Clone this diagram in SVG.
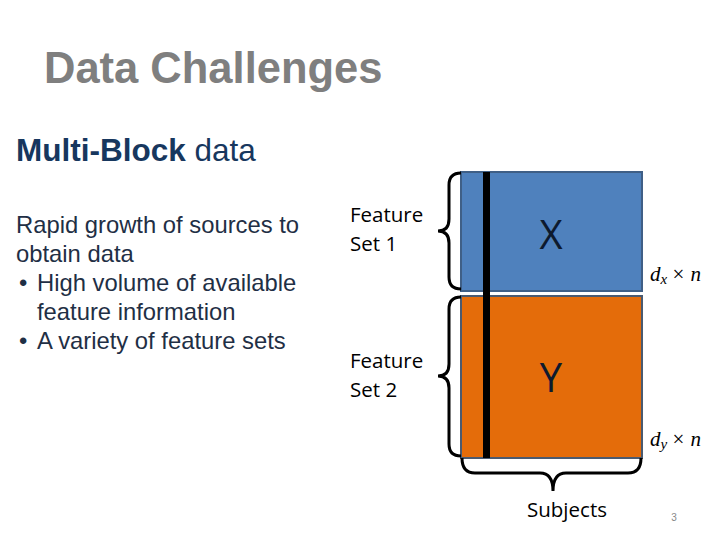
<svg xmlns="http://www.w3.org/2000/svg" width="720" height="540" viewBox="0 0 720 540">
<style>
.title{font-family:"Liberation Sans",Arial,sans-serif;font-weight:bold;font-size:43.5px;fill:#7f7f7f}
.sub{font-family:"Liberation Sans",Arial,sans-serif;font-size:31.5px;fill:#17375e}
.body{font-family:"Liberation Sans",Arial,sans-serif;font-size:23.8px;fill:#1f2f45}
.lab{font-family:"Open Sans","Liberation Sans",sans-serif;font-size:20.5px;fill:#000}
.big{font-family:"Open Sans","Liberation Sans",sans-serif;font-size:40px;fill:#0d1a2e;text-anchor:middle}
.math{font-family:"Liberation Serif",serif;font-style:italic;font-size:21px;fill:#000}
.brace{fill:none;stroke:#000;stroke-width:3}
</style>
<rect width="720" height="540" fill="#fff"/>
<text class="title" x="44" y="83">Data Challenges</text>
<text class="sub" x="16" y="161"><tspan font-weight="bold">Multi-Block</tspan> data</text>
<g class="body">
<text x="16" y="233">Rapid growth of sources to</text>
<text x="16" y="262">obtain data</text>
<text x="19" y="291">•</text><text x="37" y="291">High volume of available</text>
<text x="37" y="320">feature information</text>
<text x="19" y="349">•</text><text x="37" y="349">A variety of feature sets</text>
</g>
<g id="fs1"><text class="lab" x="350" y="222">Feature</text><text class="lab" x="350" y="251">Set 1</text></g>
<g id="fs2"><text class="lab" x="350" y="368">Feature</text><text class="lab" x="350" y="397">Set 2</text></g>
<g id="X">
<rect x="461" y="172" width="181" height="119" fill="#4f81bd" stroke="#3f5f86" stroke-width="2"/>
<text class="big" x="551" y="249">X</text>
<text class="math" x="650" y="281">d<tspan font-size="15" dy="3">x</tspan><tspan dy="-3" font-style="normal"> × </tspan><tspan dx="1">n</tspan></text>
</g>
<g id="Y">
<rect x="461" y="296" width="181" height="162" fill="#e46c0a" stroke="#4a5a70" stroke-width="2"/>
<text class="big" x="551" y="392">Y</text>
<text class="math" x="650" y="446">d<tspan font-size="15" dy="3">y</tspan><tspan dy="-3" font-style="normal"> × </tspan><tspan dx="1">n</tspan></text>
</g>
<g id="connectors">
<rect x="483" y="172" width="7" height="286" fill="#000"/>
<path class="brace" d="M461,173 Q449,173 449,185 L449,219 Q449,231 438,231 Q449,231 449,243 L449,277 Q449,289 461,289"/>
<path class="brace" d="M461,297 Q449,297 449,309 L449,364 Q449,376 438,376 Q449,376 449,388 L449,444 Q449,456 461,456"/>
<path class="brace" d="M462,458 Q462,473 475,473 L540,473 Q553,473 553,491 Q553,473 566,473 L628,473 Q641,473 641,458"/>
</g>
<text class="lab" x="567" y="517" text-anchor="middle">Subjects</text>
<text x="674" y="521" font-family="Liberation Sans,sans-serif" font-size="10" fill="#888" text-anchor="middle">3</text>
</svg>
